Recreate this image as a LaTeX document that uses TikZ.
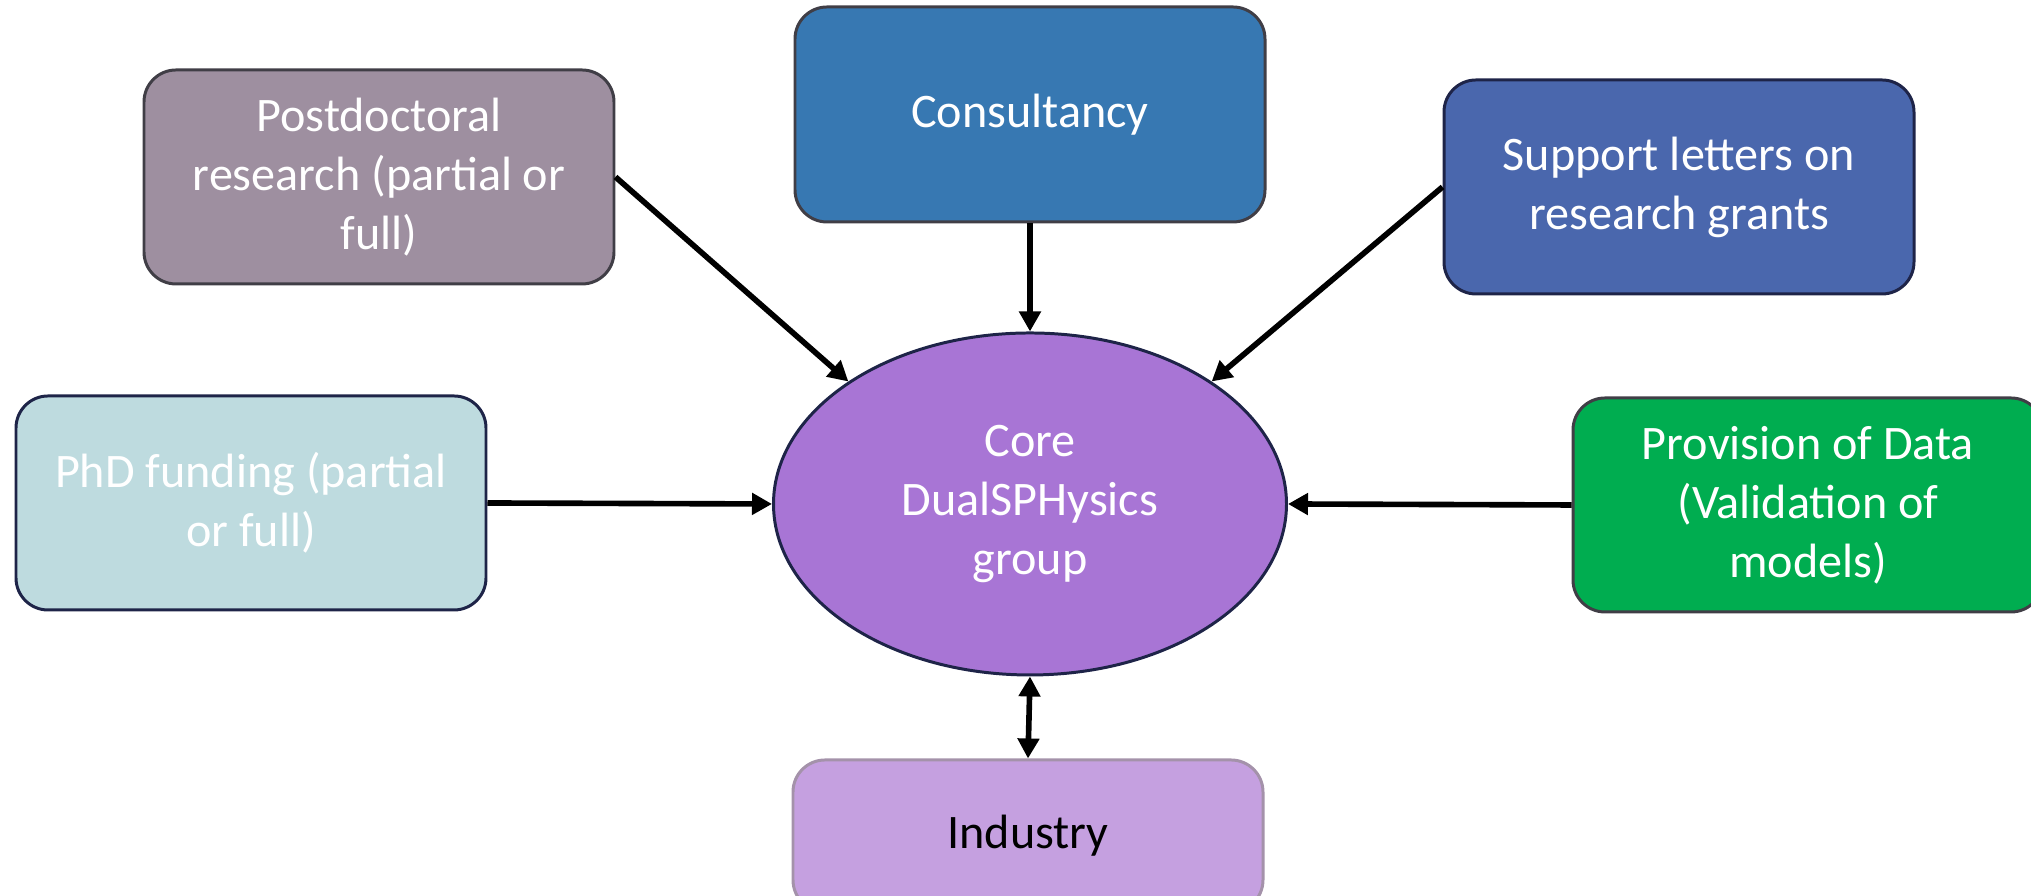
\documentclass[tikz,border=0pt]{standalone}
\usepackage{fontspec}
\setmainfont{Carlito}
\usetikzlibrary{shapes.geometric,arrows.meta}

\definecolor{postdocfill}{RGB}{158,143,160}
\definecolor{consultfill}{RGB}{55,120,178}
\definecolor{supportfill}{RGB}{74,103,173}
\definecolor{phdfill}{RGB}{190,219,223}
\definecolor{datafill}{RGB}{0,173,80}
\definecolor{industryfill}{RGB}{197,160,224}
\definecolor{corefill}{RGB}{168,117,213}
\definecolor{greyedge}{RGB}{64,62,70}
\definecolor{navyedge}{RGB}{30,36,72}
\definecolor{lilacedge}{RGB}{164,146,170}

\begin{document}
\begin{tikzpicture}[
    >={Triangle[length=2mm,width=2.1mm]},
    box/.style={draw=greyedge, line width=0.85pt, rectangle, rounded corners=0.32cm,
        minimum width=4.7cm, minimum height=2.14cm, align=center, text=white,
        font=\fontsize{13.7}{16.8}\selectfont},
    link/.style={->, line width=1.6pt}
]
\useasboundingbox (0,0) rectangle (20.31,8.96);

% Core group
\node[draw=navyedge, line width=0.85pt, ellipse, fill=corefill, minimum width=5.13cm, minimum height=3.42cm,
    align=center, text=white, font=\fontsize{13.7}{16.8}\selectfont] (core) at (10.30,3.92) {Core\\DualSPHysics\\group};

% Postdoctoral research
\node[box, fill=postdocfill] (postdoc) at (3.79,7.19) {Postdoctoral\\research (partial or\\full)};
\draw[link] (postdoc.east) -- (core.146);

% Consultancy
\node[box, fill=consultfill, minimum height=2.15cm] (consult) at (10.30,7.815) {Consultancy};
\draw[link] (consult.south) -- (core.north);

% Support letters
\node[box, draw=navyedge, fill=supportfill] (support) at (16.79,7.09) {Support letters on\\research grants};
\draw[link] (support.west) -- (core.34);

% PhD funding
\node[box, draw=navyedge, fill=phdfill] (phd) at (2.51,3.93) {PhD funding (partial\\or full)};
\draw[link] (phd.east) -- (core.west);

% Provision of data
\node[box, fill=datafill] (data) at (18.08,3.91) {Provision of Data\\(Validation of\\models)};
\draw[link] (data.west) -- (core.east);

% Industry
\node[box, draw=lilacedge, fill=industryfill, text=black, minimum height=1.52cm] (industry) at (10.28,0.60) {Industry};
\draw[link, <->] (core.south) -- (industry.north);
\end{tikzpicture}
\end{document}
